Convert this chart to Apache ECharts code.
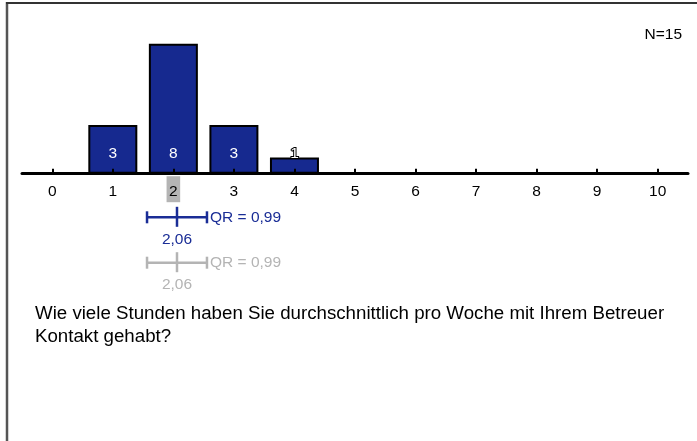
<!DOCTYPE html>
<html><head><meta charset="utf-8">
<script src="https://cdn.jsdelivr.net/npm/echarts@6/dist/echarts.min.js"></script>
<style>html,body{margin:0;padding:0;background:#fff}#c{width:697px;height:441px}</style>
</head><body><div id="c"></div>
<script>
var categories = ['0','1','2','3','4','5','6','7','8','9','10'];
var counts = [0,3,8,3,1,0,0,0,0,0,0];
var medians = [2.06, 2.06];
var qrs = [0.99, 0.99];
var rowNames = ['aktuell','vergleich'];
var question = 'Wie viele Stunden haben Sie durchschnittlich pro Woche mit Ihrem Betreuer\nKontakt gehabt?';

var FONT = '"Liberation Sans", Arial, sans-serif';
var BLUE = '#16298f';
var rowColors = ['#1a2d96', '#b4b4b4'];
var total = counts.reduce(function(a,b){return a+b;},0);
var hlIndex = Math.round(medians[0]);
function de(v){ return v.toFixed(2).replace('.', ','); }

var chart = echarts.init(document.getElementById('c'), null, {renderer:'canvas'});
chart.setOption({
  animation: false,
  textStyle: {fontFamily: FONT},
  title: [
    {text: 'N=' + total, right: 10, top: 22, textStyle: {fontFamily: FONT, fontSize: 15.5, fontWeight: 'normal', color: '#000'}},
    {text: question, left: 30, top: 298, textStyle: {fontFamily: FONT, fontSize: 18.7, lineHeight: 22.5, fontWeight: 'normal', color: '#000'}}
  ],
  graphic: [
    {type: 'line', shape: {x1: 7, y1: 2, x2: 7, y2: 441}, style: {stroke: '#555', lineWidth: 2.5}, z: 10},
    {type: 'line', shape: {x1: 6, y1: 3, x2: 697, y2: 3}, style: {stroke: '#333', lineWidth: 2}, z: 10}
  ],
  grid: [
    {left: 22, width: 666, top: 43.7, bottom: 267.3},
    {left: 22, width: 666, top: 194.6, height: 90.8}
  ],
  xAxis: [
    {type: 'category', gridIndex: 0, data: categories, z: 5,
     axisLine: {lineStyle: {color: '#000', width: 3}},
     axisTick: {show: true, alignWithLabel: true, inside: true, length: 5, lineStyle: {color: '#000', width: 2}},
     axisLabel: {margin: 8, interval: 0,
       formatter: function(v, i){ return i === hlIndex ? '{hl|' + v + '}' : '{n|' + v + '}'; },
       rich: {
         n: {fontFamily: FONT, fontSize: 15.5, lineHeight: 15, color: '#000', padding: [8,2.5,2,2.5]},
         hl: {fontFamily: FONT, fontSize: 15.5, lineHeight: 15, color: '#000', padding: [8,2.5,2,2.5], backgroundColor: '#b4b4b4'}
       }}},
    {type: 'value', gridIndex: 1, min: -0.5, max: 10.5, show: false}
  ],
  yAxis: [
    {type: 'value', gridIndex: 0, min: 0, max: 8, show: false},
    {type: 'category', gridIndex: 1, data: rowNames, inverse: true, show: false}
  ],
  series: [
    {type: 'bar', xAxisIndex: 0, yAxisIndex: 0, barWidth: 49,
     data: counts.map(function(v){
       return {value: v, label: v === 1 ? {textBorderColor: '#000', textBorderWidth: 2} : {}};
     }),
     itemStyle: {color: BLUE, borderColor: '#000', borderWidth: 2},
     label: {show: true, position: 'insideBottom', distance: 12, color: '#fff', fontFamily: FONT, fontSize: 15.5,
       formatter: function(p){ return p.value ? String(p.value) : ''; }}},
    {type: 'custom', xAxisIndex: 1, yAxisIndex: 1, clip: false,
     data: medians.map(function(m, i){ return [m, qrs[i], i]; }),
     renderItem: function(params, api){
       var m = api.value(0), q = api.value(1), r = api.value(2);
       var c = api.coord([m, r]);
       var l = api.coord([m - q/2, r]);
       var rt = api.coord([m + q/2, r]);
       var col = rowColors[r];
       var y = c[1];
       var ls = {stroke: col, lineWidth: 2.5};
       return {type: 'group', children: [
         {type: 'line', shape: {x1: l[0], y1: y, x2: rt[0], y2: y}, style: ls},
         {type: 'line', shape: {x1: l[0], y1: y-6, x2: l[0], y2: y+6}, style: ls},
         {type: 'line', shape: {x1: rt[0], y1: y-6, x2: rt[0], y2: y+6}, style: ls},
         {type: 'line', shape: {x1: c[0], y1: y-10.5, x2: c[0], y2: y+9.5}, style: ls},
         {type: 'text', style: {text: 'QR = ' + de(q), x: rt[0] + 3, y: y + 0.5, verticalAlign: 'middle', align: 'left', fill: col, font: '15.5px ' + FONT}},
         {type: 'text', style: {text: de(m), x: c[0], y: y + 22, verticalAlign: 'middle', align: 'center', fill: col, font: '15.5px ' + FONT}}
       ]};
     }}
  ]
});
</script></body></html>
